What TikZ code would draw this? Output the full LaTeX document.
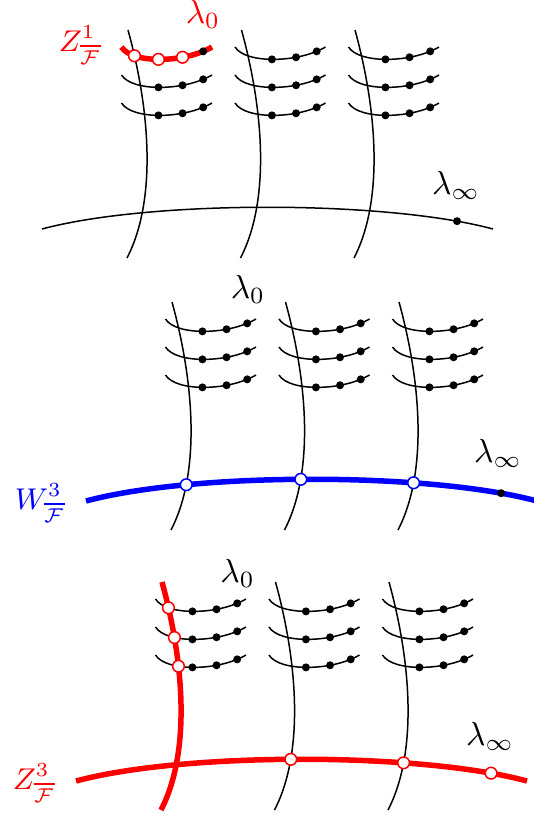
\documentclass[tikz,border=0pt]{standalone}
\usetikzlibrary{intersections}
\begin{document}
\begin{tikzpicture}[x=0.3pt,y=-0.3pt,
  thinline/.style={line width=0.45pt},
  thickline/.style={line width=1.65pt},
  dot/.style={circle,fill=black,draw=none,inner sep=0pt,minimum size=2.4pt},
  hole/.style={circle,draw=#1,fill=white,line width=0.45pt,inner sep=0pt,minimum size=3.5pt},
  lab/.style={inner sep=0pt,font=\fontsize{9.6}{11}\selectfont},
  slab/.style={inner sep=0pt,font=\fontsize{8.6}{10}\selectfont},
  fib31/.style={red,thickline},
  row111/.style={red,thickline},
  base2/.style={blue,thickline},
  base3/.style={red,thickline},
  dA111/.style={hole=red},
  dB111/.style={hole=red},
  inf3/.style={hole=red},
]
\useasboundingbox (0,0) rectangle (534,814);
\foreach \p/\sx/\sy in {1/0/0,2/44/272,3/34/552}{
  \begin{scope}[shift={(\sx,\sy)}]
    \foreach \k/\dx in {1/0,2/113.5,3/227}{
      \begin{scope}[shift={(\dx,0)}]
        \draw[thinline,fib\p\k/.try,name path global=F\p\k]
          (128,30) .. controls (150,110) and (157,200) .. (127,258);
        \foreach \r/\yy in {1/47,2/75,3/103}{
          \draw[thinline,row\p\k\r/.try,name path global=R\p\k\r]
            (121.5,\yy) .. controls (132,\yy+17) and (185,\yy+16) .. (212,\yy)
            node[dot,dA\p\k\r/.try,pos=0.48] (a\p\k\r) {}
            node[dot,dB\p\k\r/.try,pos=0.7] (b\p\k\r) {}
            node[dot,pos=0.9] (c\p\k\r) {};
        }
      \end{scope}
    }
    \draw[thinline,base\p/.try,name path global=B\p]
      (42,229) .. controls (150,200) and (385,200) .. (493,229)
      node[dot,inf\p/.try,pos=0.9] (inf\p) {};
  \end{scope}
}
% panel 1: red row meets first fibre
\path[name intersections={of=F11 and R111,name=ia}] (ia-1) node[hole=red] (h111) {};
% panel 2: blue base meets fibres
\foreach \k in {1,2,3}{
  \path[name intersections={of=B2 and F2\k,name=ib\k}] (ib\k-1) node[hole=blue] (hb\k) {};
}
% panel 3: red fibre meets rows, red base meets fibres
\foreach \r in {1,2,3}{
  \path[name intersections={of=F31 and R31\r,name=ic\r}] (ic\r-1) node[hole=red] (hc\r) {};
}
\foreach \k in {2,3}{
  \path[name intersections={of=B3 and F3\k,name=id\k}] (id\k-1) node[hole=red] (hd\k) {};
}
% labels
\node[lab,text=red] (l01) at (203,14) {$\lambda_0$};
\node[lab] (li1) at (456,185) {$\lambda_\infty$};
\node[slab,text=red] (z1) at (80,45) {$Z^{1}_{\overline{\mathcal{F}}}$};
\node[lab] (l02) at (248,289.5) {$\lambda_0$};
\node[lab] (li2) at (498,453.5) {$\lambda_\infty$};
\node[slab,text=blue] (w3) at (40,503) {$W^{3}_{\overline{\mathcal{F}}}$};
\node[lab] (l03) at (237.5,573) {$\lambda_0$};
\node[lab] (li3) at (490,736.5) {$\lambda_\infty$};
\node[slab,text=red] (z3) at (34,783) {$Z^{3}_{\overline{\mathcal{F}}}$};
\end{tikzpicture}
\end{document}
